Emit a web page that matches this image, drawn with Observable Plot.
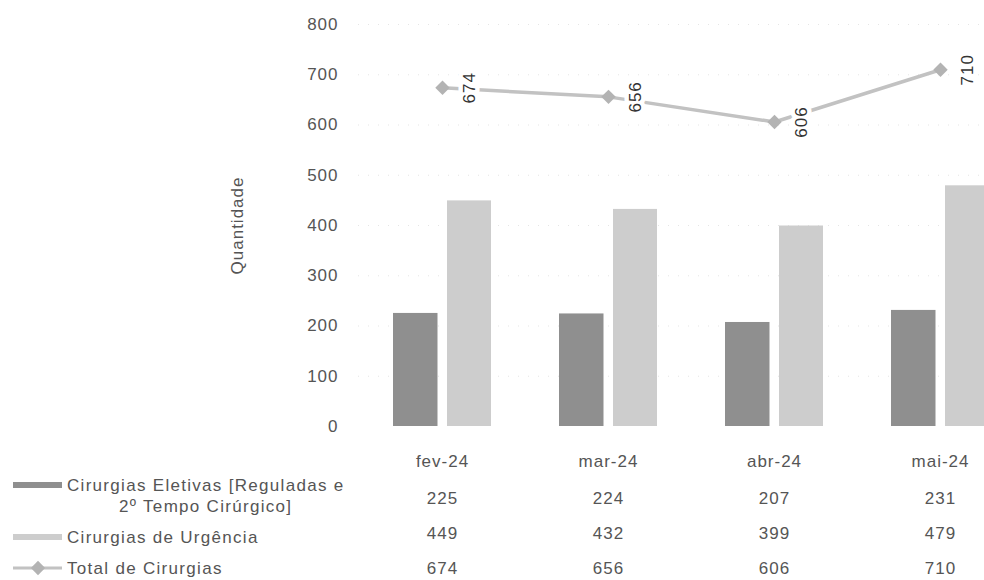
<!DOCTYPE html>
<html>
<head>
<meta charset="utf-8">
<script src="https://cdn.jsdelivr.net/npm/d3@7"></script>
<script src="https://cdn.jsdelivr.net/npm/@observablehq/plot@0.6"></script>
<style>
  html, body { margin: 0; padding: 0; background: #fff; }
  #wrap { position: relative; width: 984px; height: 580px; overflow: hidden; background: #fff;
          font-family: "Liberation Sans", Arial, sans-serif; color: #555; }
  #wrap svg { max-width: none !important; }
  #main { position: absolute; left: 0; top: 0; }
  #table { position: absolute; left: 0; top: 470px; }
  .lg { position: absolute; font-size: 17px; letter-spacing: 1.3px; line-height: 21px; color: #555; white-space: nowrap; }
  .sw { position: absolute; left: 13px; width: 49px; height: 6px; }
</style>
</head>
<body>
<div id="wrap">
  <div id="main"></div>
  <div id="table"></div>
  <div class="sw" id="sw1" style="top:482px;"></div>
  <div class="lg" style="left:67px; top:475px;"><span style="display:inline-block; text-align:center;" id="lg1"></span></div>
  <div class="sw" id="sw2" style="top:534px;"></div>
  <div class="lg" style="left:67px; top:527px;" id="lg2"></div>
  <svg style="position:absolute; left:10px; top:560px;" width="56" height="16" id="sw3"></svg>
  <div class="lg" style="left:67px; top:558px;" id="lg3"></div>
</div>
<script>
// ---- data ----
const months = ["fev-24", "mar-24", "abr-24", "mai-24"];
const eletivas = [225, 224, 207, 231];
const urgencia = [449, 432, 399, 479];
const total = [674, 656, 606, 710];
const yTicks = [0, 100, 200, 300, 400, 500, 600, 700, 800];
const seriesNames = ["Cirurgias Eletivas [Reguladas e\n2º Tempo Cirúrgico]", "Cirurgias de Urgência", "Total de Cirurgias"];
const rowKeys = ["eletivas", "urgencia", "total"];

const colDark = "#8f8f8f";
const colLight = "#cdcdcd";
const colLine = "#c2c2c2";
const colDiamond = "#b3b3b3";
const textCol = "#555";

const rows = months.map((m, i) => ({month: m, eletivas: eletivas[i], urgencia: urgencia[i], total: total[i]}));

const font = "'Liberation Sans', Arial, sans-serif";

const xOpts = {type: "band", domain: months, paddingInner: 0.41, paddingOuter: 0.2, align: 0.5};

const main = Plot.plot({
  width: 1024,
  height: 480,
  marginTop: 24,
  marginBottom: 54,
  marginLeft: 358,
  marginRight: 0,
  style: {fontFamily: font, fontSize: "17px", color: textCol, background: "white", letterSpacing: "1px", maxWidth: "none"},
  x: {...xOpts, axis: null},
  y: {domain: [0, 800], axis: null},
  marks: [
    Plot.gridY(yTicks.slice(1), {stroke: "#aaa", strokeOpacity: 0.3, strokeDasharray: "1,9"}),
    Plot.barY(rows, {x: "month", y: "eletivas", fill: colDark, insetLeft: 0, insetRight: 53.5}),
    Plot.barY(rows, {x: "month", y: "urgencia", fill: colLight, insetLeft: 54, insetRight: 0}),
    Plot.axisY({ticks: yTicks, tickSize: 0, tickPadding: 20, fontSize: 17, fill: textCol,
      label: "Quantidade", labelAnchor: "center", labelOffset: 128, labelArrow: "none"}),
    Plot.axisX({tickSize: 0, tickPadding: 28, fontSize: 17, fill: textCol, label: null}),
    Plot.line(rows, {x: "month", y: "total", stroke: colLine, strokeWidth: 3.5}),
    Plot.dot(rows, {x: "month", y: "total", symbol: "diamond2", r: 6.5, fill: colDiamond, stroke: "none"}),
    Plot.text(rows, {x: "month", y: "total", text: d => String(d.total), rotate: -90, dx: 27,
      fontSize: 17, fill: "#333", stroke: "white", strokeWidth: 9, paintOrder: "stroke"})
  ]
});
document.getElementById("main").appendChild(main);

// ---- data table (values under each month) ----
const cells = [];
rows.forEach(r => rowKeys.forEach(k => cells.push({month: r.month, row: k, value: r[k]})));

const table = Plot.plot({
  width: 1024,
  height: 110,
  marginTop: 27,
  marginBottom: 12,
  marginLeft: 358,
  marginRight: 0,
  style: {fontFamily: font, fontSize: "17px", color: textCol, background: "transparent", letterSpacing: "1px", maxWidth: "none"},
  x: {...xOpts, axis: null},
  y: {type: "point", domain: rowKeys, padding: 0, axis: null},
  marks: [
    Plot.text(cells, {x: "month", y: "row", text: d => String(d.value), fontSize: 17, fill: textCol})
  ]
});
document.getElementById("table").appendChild(table);

// ---- legend ----
document.getElementById("sw1").style.background = colDark;
document.getElementById("sw2").style.background = colLight;
document.getElementById("lg1").innerHTML = seriesNames[0].split("\n").join("<br>");
document.getElementById("lg2").textContent = seriesNames[1];
document.getElementById("lg3").textContent = seriesNames[2];
const sw3 = d3.select("#sw3");
sw3.append("line").attr("x1", 3).attr("x2", 52).attr("y1", 8).attr("y2", 8)
  .attr("stroke", colLine).attr("stroke-width", 3);
sw3.append("path").attr("d", d3.symbol(d3.symbolDiamond2, 130)())
  .attr("transform", "translate(28,8)").attr("fill", colDiamond);
</script>
</body>
</html>
